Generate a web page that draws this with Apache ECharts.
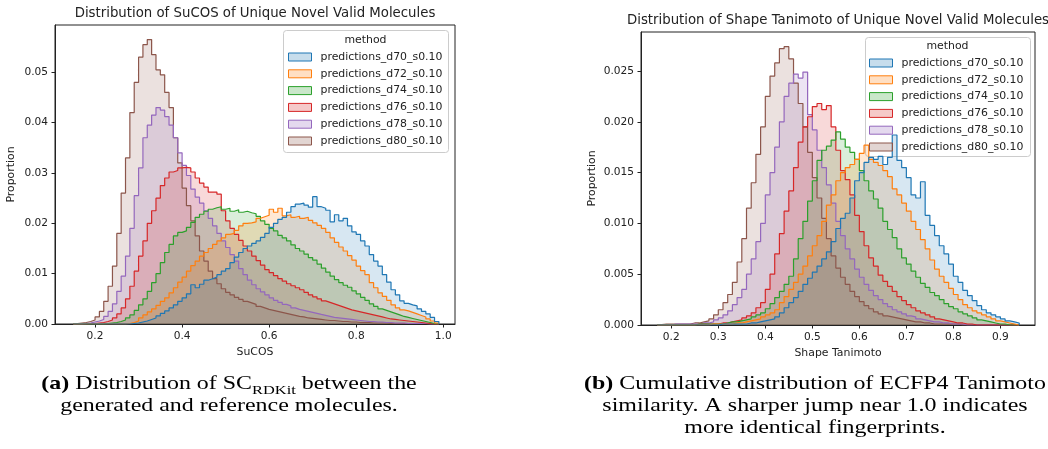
<!DOCTYPE html>
<html><head><meta charset="utf-8">
<script src="https://cdn.jsdelivr.net/npm/echarts@6/dist/echarts.min.js"></script>
<style>html,body{margin:0;padding:0;background:#fff}#c{width:1048px;height:449px}</style>
</head><body><div id="c"></div><script>
// ---------- data ----------
const methods = ['predictions_d70_s0.10','predictions_d72_s0.10','predictions_d74_s0.10','predictions_d76_s0.10','predictions_d78_s0.10','predictions_d80_s0.10'];
const colors = ['#1f77b4','#ff7f0e','#2ca02c','#d62728','#9467bd','#8c564b'];

// SuCOS histogram: bins of width 0.01 starting at 0.15 (84 bins)
const sucosBinStart = 0.15, sucosBinWidth = 0.01;
const sucosD70 = [0,0,0,0,0, 0,0,0,0,0, 0,0,0,0.0001,0.0002, 0.0004,0.0006,0.0009,0.0012,0.0016, 0.0021,0.0026,0.0032,0.0038,0.0045, 0.0052,0.006,0.0078,0.0072,0.0079, 0.0087,0.009,0.0093,0.0098,0.0105, 0.011,0.0122,0.0133,0.0142,0.015, 0.0155,0.016,0.0165,0.0172,0.018, 0.0192,0.02,0.0208,0.0212,0.0222, 0.0233,0.0238,0.024,0.0236,0.0232, 0.0253,0.0233,0.023,0.0226,0.0203, 0.0217,0.0205,0.021,0.0195,0.0183, 0.0178,0.0165,0.0155,0.0138,0.0125, 0.0115,0.0098,0.0083,0.0068,0.0058, 0.0046,0.0041,0.0038,0.0036,0.003, 0.0025,0.002,0.0013,0.0005];
const sucosD72 = [0,0,0,0,0, 0,0,0,0,0, 0,0,0.0001,0.0003,0.0006, 0.0012,0.0018,0.0024,0.003,0.0037, 0.0045,0.0052,0.0062,0.0072,0.0083, 0.0093,0.0105,0.0116,0.0125,0.0135, 0.0142,0.015,0.0158,0.0165,0.0171, 0.0178,0.018,0.0186,0.0195,0.02, 0.0201,0.0203,0.021,0.0213,0.0216, 0.0228,0.0222,0.023,0.0215,0.0217, 0.0212,0.0214,0.021,0.0212,0.0206, 0.0201,0.0196,0.019,0.0182,0.0171, 0.0162,0.0153,0.0145,0.0136,0.0127, 0.0115,0.0106,0.0098,0.0082,0.0072, 0.0062,0.0055,0.0047,0.0038,0.0032, 0.0028,0.0026,0.0023,0.002,0.0017, 0.0014,0.001,0.0006,0.0002];
const sucosD74 = [0,0,0,0,0, 0,0,0.0001,0.0002,0.0003, 0.0005,0.0008,0.0012,0.0018,0.0027, 0.0038,0.005,0.0065,0.0082,0.01, 0.0122,0.0142,0.0158,0.0175,0.0182, 0.0185,0.0192,0.0202,0.0212,0.0218, 0.0224,0.0228,0.0231,0.0233,0.0228, 0.023,0.0224,0.0227,0.0222,0.0224, 0.0221,0.0219,0.0214,0.0205,0.0198, 0.019,0.0185,0.0176,0.0171,0.0165, 0.0157,0.015,0.0145,0.0139,0.0132, 0.0127,0.0119,0.0111,0.0103,0.0095, 0.0088,0.0082,0.0077,0.0073,0.0066, 0.006,0.0053,0.0047,0.004,0.0035, 0.003,0.0027,0.0024,0.0021,0.0018, 0.0015,0.0013,0.0011,0.0009,0.0007, 0.0005,0.0003,0.0001,0];
const sucosD76 = [0,0,0,0.0001,0.0001, 0.0002,0.0003,0.0005,0.0008,0.0012, 0.002,0.0032,0.005,0.0075,0.0105, 0.0135,0.0165,0.02,0.0225,0.025, 0.0275,0.029,0.0302,0.0305,0.031, 0.0311,0.031,0.0302,0.029,0.028, 0.0272,0.0262,0.0262,0.0258,0.0225, 0.0205,0.019,0.0178,0.0166,0.0155, 0.0145,0.0135,0.0126,0.0117,0.0108, 0.0102,0.0096,0.009,0.0085,0.008, 0.0076,0.0072,0.0068,0.0063,0.0058, 0.0054,0.005,0.0046,0.0043,0.004, 0.0037,0.0034,0.0031,0.0028,0.0026, 0.0024,0.0022,0.002,0.0018,0.0016, 0.0014,0.0012,0.001,0.0009,0.0008, 0.0007,0.0006,0.0005,0.0004,0.0003, 0.0002,0.0001,0,0];
const sucosD78 = [0,0,0.0001,0.0002,0.0004, 0.0006,0.0009,0.0015,0.0025,0.004, 0.0065,0.0095,0.0135,0.019,0.0255, 0.031,0.037,0.0395,0.0415,0.043, 0.0425,0.0412,0.0395,0.037,0.034, 0.0315,0.0295,0.0268,0.0252,0.024, 0.0225,0.021,0.0195,0.018,0.0165, 0.0152,0.0138,0.0125,0.011,0.0098, 0.0087,0.0078,0.007,0.0064,0.0058, 0.0052,0.0047,0.0043,0.0039,0.0036, 0.0032,0.0029,0.0027,0.0025,0.0023, 0.0021,0.0019,0.0017,0.0015,0.0013, 0.0012,0.0011,0.001,0.0009,0.0008, 0.0007,0.0006,0.0005,0.0005,0.0004, 0.0004,0.0003,0.0003,0.0002,0.0002, 0.0002,0.0001,0.0001,0.0001,0.0001, 0.0001,0,0,0];
const sucosD80 = [0.0001,0.0002,0.0003,0.0005,0.0008, 0.0014,0.0025,0.0045,0.0075,0.0115, 0.018,0.026,0.033,0.042,0.048, 0.053,0.0555,0.0565,0.0535,0.0505, 0.0495,0.046,0.043,0.037,0.032, 0.027,0.0235,0.0205,0.0175,0.0145, 0.0125,0.0105,0.009,0.008,0.007, 0.0063,0.0058,0.0053,0.0049,0.0045, 0.0042,0.0039,0.0035,0.0032,0.0029, 0.0027,0.0025,0.0023,0.0021,0.0019, 0.0017,0.0015,0.0014,0.0012,0.0011, 0.001,0.0009,0.0008,0.0007,0.0007, 0.0006,0.0005,0.0005,0.0004,0.0004, 0.0003,0.0003,0.0003,0.0002,0.0002, 0.0002,0.0002,0.0001,0.0001,0.0001, 0.0001,0.0001,0.0001,0.0001,0.0001, 0.0001,0,0,0];

// Shape Tanimoto histogram: bins of width 0.01 starting at 0.17 (77 bins)
const shapeBinStart = 0.17, shapeBinWidth = 0.01;
const shapeD70 = [0,0,0, 0,0,0,0,0, 0,0,0,0,0, 0.0001,0.0001,0.0001,0.0001,0.0001, 0.0001,0.0002,0.0002,0.0003,0.0004, 0.0005,0.0006,0.0008,0.0012,0.0017, 0.0022,0.0027,0.0033,0.004,0.0046, 0.0052,0.0058,0.0065,0.0072,0.0082, 0.0095,0.0105,0.011,0.0125,0.0142, 0.015,0.016,0.0165,0.0163,0.0166, 0.0158,0.0165,0.0187,0.0162,0.0155, 0.0145,0.0128,0.0125,0.0141,0.0108, 0.0098,0.0088,0.0078,0.007,0.006, 0.0048,0.0042,0.0034,0.0029,0.0024, 0.0019,0.0015,0.0012,0.001,0.0008, 0.0006,0.0004,0.0003,0.0002];
const shapeD72 = [0,0,0, 0,0,0,0,0, 0,0,0,0.0001,0.0001, 0.0001,0.0001,0.0001,0.0002,0.0002, 0.0003,0.0004,0.0005,0.0006,0.0008, 0.001,0.0012,0.0015,0.0022,0.0028, 0.0035,0.0042,0.005,0.0058,0.0068, 0.0078,0.0088,0.0102,0.0118,0.0128, 0.0142,0.015,0.0155,0.0158,0.0163, 0.0169,0.0177,0.0163,0.016,0.0157, 0.0152,0.0146,0.0134,0.0128,0.012, 0.0112,0.0102,0.0094,0.0084,0.0075, 0.0064,0.0055,0.0048,0.0042,0.0036, 0.003,0.0025,0.002,0.0017,0.0014, 0.0012,0.001,0.0008,0.0006,0.0004, 0.0003,0.0002,0.0001,0];
const shapeD74 = [0,0,0, 0,0,0,0,0, 0.0001,0.0001,0.0001,0.0001,0.0001, 0.0001,0.0002,0.0003,0.0003,0.0004, 0.0005,0.0006,0.0008,0.001,0.0012, 0.0016,0.0021,0.0027,0.0033,0.004, 0.0048,0.0065,0.0085,0.0102,0.0122, 0.0142,0.0162,0.0172,0.0176,0.0182, 0.019,0.0183,0.0175,0.017,0.0163, 0.0152,0.0142,0.0132,0.0124,0.0115, 0.0102,0.0094,0.0086,0.0075,0.0066, 0.006,0.0053,0.0047,0.0041,0.0037, 0.0032,0.0029,0.0025,0.0021,0.0018, 0.0016,0.0013,0.0011,0.0009,0.0007, 0.0005,0.0004,0.0003,0.0002,0.0001, 0.0001,0,0,0];
const shapeD76 = [0,0,0, 0,0,0,0,0, 0.0001,0.0001,0.0001,0.0001,0.0001, 0.0002,0.0002,0.0003,0.0004,0.0005, 0.0007,0.0009,0.0012,0.0017,0.0022, 0.0035,0.005,0.007,0.009,0.0112, 0.0132,0.0155,0.018,0.0195,0.0205, 0.0215,0.0218,0.0212,0.0216,0.0195, 0.0172,0.0152,0.0143,0.0128,0.0108, 0.0092,0.0078,0.0066,0.0058,0.0049, 0.0043,0.0038,0.0033,0.0028,0.0024, 0.002,0.0017,0.0014,0.0012,0.001, 0.0008,0.0006,0.0005,0.0004,0.0003, 0.0002,0.0002,0.0001,0.0001,0, 0,0,0,0,0, 0,0,0,0];
const shapeD78 = [0,0,0, 0.0001,0.0001,0.0001,0.0001,0.0001, 0.0001,0.0002,0.0002,0.0003,0.0005, 0.0007,0.001,0.0014,0.002,0.0027, 0.0035,0.005,0.0065,0.0082,0.01, 0.0128,0.015,0.0175,0.02,0.0225, 0.0238,0.0247,0.0243,0.0249,0.0207, 0.0192,0.0172,0.0155,0.0138,0.012, 0.0102,0.0088,0.0075,0.0065,0.0055, 0.0047,0.004,0.0034,0.0029,0.0025, 0.0021,0.0018,0.0015,0.0013,0.0011, 0.0009,0.0008,0.0006,0.0005,0.0004, 0.0003,0.0003,0.0002,0.0002,0.0001, 0.0001,0.0001,0,0,0, 0,0,0,0,0, 0,0,0,0];
const shapeD80 = [0.00005,0.0001,0.0001, 0.0001,0.0001,0.0001,0.0001,0.0002, 0.0002,0.0003,0.0004,0.0006,0.001, 0.0015,0.0022,0.003,0.0042,0.0062, 0.0085,0.0115,0.014,0.0168,0.0195, 0.0225,0.0245,0.0258,0.0272,0.0274, 0.0262,0.0238,0.0218,0.0195,0.017, 0.0145,0.0125,0.0105,0.0085,0.0068, 0.0056,0.0047,0.004,0.0033,0.0028, 0.0023,0.0019,0.0016,0.0013,0.0011, 0.0009,0.0008,0.0007,0.0006,0.0005, 0.0004,0.0003,0.0003,0.0002,0.0002, 0.0001,0.0001,0.0001,0.0001,0.0001, 0.0001,0,0,0,0, 0,0,0,0,0, 0,0,0,0];

// axis ticks
const sucosXTicks = [0.2, 0.4, 0.6, 0.8, 1.0];
const sucosYTicks = [0, 0.01, 0.02, 0.03, 0.04, 0.05];
const shapeXTicks = [0.2, 0.3, 0.4, 0.5, 0.6, 0.7, 0.8, 0.9];
const shapeYTicks = [0, 0.005, 0.01, 0.015, 0.02, 0.025];

// text
const titleA = 'Distribution of SuCOS of Unique Novel Valid Molecules';
const titleB = 'Distribution of Shape Tanimoto of Unique Novel Valid Molecules';
const legendTitle = 'method';

// ---------- build ----------
const sucosSeries = [sucosD70, sucosD72, sucosD74, sucosD76, sucosD78, sucosD80];
const shapeSeries = [shapeD70, shapeD72, shapeD74, shapeD76, shapeD78, shapeD80];

function stepPoints(start, w, h) {
  const pts = [[start, 0]];
  h.forEach((v, i) => pts.push([+(start + i * w).toFixed(4), v]));
  pts.push([+(start + h.length * w).toFixed(4), 0]);
  return pts;
}
function rgba(hex, a) {
  const n = parseInt(hex.slice(1), 16);
  return `rgba(${(n >> 16) & 255},${(n >> 8) & 255},${n & 255},${a})`;
}
const TXT = '#222';
const FONT = 'DejaVu Sans';
const TICK_FS = 10.6, LEG_FS = 10.9, NAME_FS = 10.9;

function makeSeries(list, start, w, gi) {
  const out = [];
  for (let k = list.length - 1; k >= 0; k--) {
    out.push({
      type: 'line', name: methods[k], xAxisIndex: gi, yAxisIndex: gi,
      step: 'end', symbol: 'none', data: stepPoints(start, w, list[k]),
      lineStyle: { color: colors[k], width: 1.2 },
      itemStyle: { color: colors[k] },
      areaStyle: { color: rgba(colors[k], 0.25), origin: 'start' },
      emphasis: { disabled: true }, silent: true
    });
  }
  return out;
}
function xAxis(gi, min, max, ticks, dec, name) {
  return {
    type: 'value', gridIndex: gi, min, max,
    name, nameLocation: 'middle', nameGap: 22,
    nameTextStyle: { color: TXT, fontFamily: FONT, fontSize: NAME_FS },
    axisLine: { show: true, onZero: false, lineStyle: { color: '#222', width: 1 } },
    axisTick: { show: true, length: 3.5, customValues: ticks, lineStyle: { color: '#222', width: 1 } },
    axisLabel: { customValues: ticks, formatter: v => v.toFixed(dec), color: TXT, fontFamily: FONT, fontSize: TICK_FS, margin: 7 },
    splitLine: { show: false }
  };
}
function yAxis(gi, max, ticks, dec, gap) {
  return {
    type: 'value', gridIndex: gi, min: 0, max,
    name: 'Proportion', nameLocation: 'middle', nameGap: gap,
    nameTextStyle: { color: TXT, fontFamily: FONT, fontSize: NAME_FS },
    axisLine: { show: true, lineStyle: { color: '#222', width: 1 } },
    axisTick: { show: true, length: 3.5, customValues: ticks, lineStyle: { color: '#222', width: 1 } },
    axisLabel: { customValues: ticks, formatter: v => v.toFixed(dec), color: TXT, fontFamily: FONT, fontSize: TICK_FS, margin: 7 },
    splitLine: { show: false }
  };
}
function legend(left, top) {
  return {
    orient: 'vertical', left, top, padding: 0, itemGap: 4.8,
    itemWidth: 23, itemHeight: 8, icon: 'rect', selectedMode: false,
    textStyle: { color: TXT, fontFamily: FONT, fontSize: LEG_FS, lineHeight: 12, padding: [0, 0, 0, 4] },
    data: methods.map((m, k) => ({
      name: m, icon: 'rect',
      itemStyle: { color: rgba(colors[k], 0.25), borderColor: colors[k], borderWidth: 1 }
    }))
  };
}

const CAP_FONT = '19px "Liberation Serif"';
const CAP_SX = 1.26;
function caption(x, y, text, rich) {
  return { type: 'text', x, y, z: 10, scaleX: CAP_SX, style: {
    text, fill: '#000', font: CAP_FONT, textAlign: 'center', textVerticalAlign: 'middle', rich } };
}
const capRich = {
  b: { fontWeight: 'bold', fontFamily: 'Liberation Serif', fontSize: 19 },
  s: { fontFamily: 'Liberation Serif', fontSize: 13, padding: [13, 0, 0, 0] }
};

const option = {
  animation: false,
  backgroundColor: '#fff',
  grid: [
    { left: 55, top: 25, width: 400, height: 299, show: true, borderColor: '#222', borderWidth: 1, outerBoundsMode: 'none', containLabel: false },
    { left: 641, top: 32, width: 394, height: 293, show: true, borderColor: '#222', borderWidth: 1, outerBoundsMode: 'none', containLabel: false }
  ],
  xAxis: [
    xAxis(0, 0.108, 1.027, sucosXTicks, 1, 'SuCOS'),
    xAxis(1, 0.1356, 0.9736, shapeXTicks, 1, 'Shape Tanimoto')
  ],
  yAxis: [
    yAxis(0, 0.0594, sucosYTicks, 2, 38),
    yAxis(1, 0.02884, shapeYTicks, 3, 43)
  ],
  legend: [legend(288, 51), legend(869, 57)],
  series: [].concat(
    makeSeries(sucosSeries, sucosBinStart, sucosBinWidth, 0),
    makeSeries(shapeSeries, shapeBinStart, shapeBinWidth, 1)
  ),
  graphic: [
    { type: 'text', x: 255, y: 14, z: 10, style: { text: titleA, fill: TXT, font: '13.3px "DejaVu Sans"', textAlign: 'center', textVerticalAlign: 'middle' } },
    { type: 'text', x: 838, y: 21, z: 10, style: { text: titleB, fill: TXT, font: '13.3px "DejaVu Sans"', textAlign: 'center', textVerticalAlign: 'middle' } },
    { type: 'rect', z: 3, shape: { x: 283.5, y: 30.5, width: 165, height: 122, r: 3 }, style: { fill: 'rgba(255,255,255,0.8)', stroke: '#cccccc', lineWidth: 1 } },
    { type: 'rect', z: 3, shape: { x: 865.5, y: 37.5, width: 165, height: 119, r: 3 }, style: { fill: 'rgba(255,255,255,0.8)', stroke: '#cccccc', lineWidth: 1 } },
    { type: 'text', x: 365.5, y: 40, z: 10, style: { text: legendTitle, fill: TXT, font: LEG_FS + 'px "DejaVu Sans"', textAlign: 'center', textVerticalAlign: 'middle' } },
    { type: 'text', x: 947.5, y: 46, z: 10, style: { text: legendTitle, fill: TXT, font: LEG_FS + 'px "DejaVu Sans"', textAlign: 'center', textVerticalAlign: 'middle' } },
    caption(229, 384, '{b|(a)} Distribution of SC{s|RDKit} between the', capRich),
    caption(229, 406, 'generated and reference molecules.'),
    caption(815, 384, '{b|(b)} Cumulative distribution of ECFP4 Tanimoto', capRich),
    caption(815, 406, 'similarity. A sharper jump near 1.0 indicates'),
    caption(815, 428, 'more identical fingerprints.')
  ]
};
const chart = echarts.init(document.getElementById('c'), null, { renderer: 'canvas' });
chart.setOption(option);
</script></body></html>
